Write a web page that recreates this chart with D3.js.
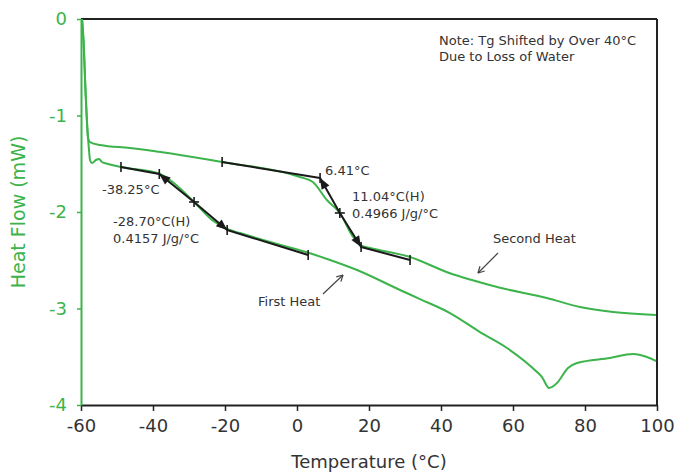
<!DOCTYPE html>
<html>
<head>
<meta charset="utf-8">
<script src="https://cdn.jsdelivr.net/npm/d3@7"></script>
<style>
  html, body { margin: 0; padding: 0; background: #fff; }
  svg text { font-family: "DejaVu Sans", sans-serif; }
</style>
</head>
<body>
<div id="chart"></div>
<script>
// --- datos ---
const secondHeatT = [-59.7, -59.3, -58.75, -58.05, -57.5, -54.7, -46.4, -20.8, 0.8, 4.4, 8.3, 11.9, 15.6, 18.1, 20.3, 31.4, 42.5, 48.1, 56.4, 69.4, 78.6, 87.8, 99.7];
const secondHeatH = [0, -0.22, -0.74, -1.23, -1.275, -1.306, -1.337, -1.482, -1.637, -1.689, -1.876, -2.01, -2.259, -2.352, -2.373, -2.466, -2.635, -2.70, -2.785, -2.891, -2.984, -3.036, -3.067];

const firstHeatT = [-59.7, -59.3, -58.75, -58.05, -57.78, -57.5, -56.94, -55.83, -55.0, -54.17, -52.5, -48.89, -38.06, -33.89, -28.61, -23.6, -19.44, -15.83, -7.5, 2.5, 9.17, 16.67, 28.6, 34.17, 42.5, 50.83, 58.33, 66.67, 68.06, 70.0, 72.22, 75.28, 77.78, 86.94, 93.33, 97.22, 99.72];
const firstHeatH = [0, -0.22, -0.74, -1.23, -1.357, -1.461, -1.492, -1.461, -1.451, -1.482, -1.503, -1.534, -1.606, -1.71, -1.896, -2.083, -2.176, -2.218, -2.311, -2.415, -2.497, -2.601, -2.808, -2.902, -3.047, -3.244, -3.409, -3.658, -3.71, -3.824, -3.772, -3.617, -3.565, -3.513, -3.472, -3.503, -3.544];

const xTicks = [-60, -40, -20, 0, 20, 40, 60, 80, 100];
const yTicks = [0, -1, -2, -3, -4];

// analisis Tg: [inicio linea base, onset, punto medio, fin, fin linea base]
const tgFirstT = [-48.9, -38.25, -28.6, -19.4, 3.1];
const tgFirstH = [-1.534, -1.606, -1.896, -2.187, -2.446];
const tgSecondT = [-20.8, 6.41, 11.9, 17.8, 31.4];
const tgSecondH = [-1.482, -1.648, -2.01, -2.363, -2.497];

// etiquetas: [texto, T, H]
const labels = [
  ["-38.25°C", -54.17, -1.782],
  ["-28.70°C(H)", -51.1, -2.104],
  ["0.4157 J/g/°C", -51.1, -2.28],
  ["6.41°C", 7.78, -1.585],
  ["11.04°C(H)", 15.28, -1.845],
  ["0.4966 J/g/°C", 15.28, -2.021],
  ["Second Heat", 54.44, -2.29],
  ["First Heat", -10.83, -2.943],
  ["Note: Tg Shifted by Over 40°C", 39.44, -0.228],
  ["Due to Loss of Water", 39.44, -0.394]
];

// flechas de etiquetas: [T0, H0, T1, H1]
const pointers = [
  [55.83, -2.425, 50.28, -2.632],
  [7.22, -2.85, 12.78, -2.653]
];

const GREEN = "#3cb44b";
const INK = "#333";

const width = 675, height = 476;
const margin = { top: 19, right: 18, bottom: 71, left: 81 };

const svg = d3.select("#chart").append("svg")
  .attr("width", width)
  .attr("height", height);

const x = d3.scaleLinear().domain([-60, 100]).range([margin.left, width - margin.right]);
const y = d3.scaleLinear().domain([-4, 0]).range([height - margin.bottom, margin.top]);

// --- marco ---
svg.append("line")
  .attr("x1", x(-60)).attr("x2", x(100))
  .attr("y1", y(0)).attr("y2", y(0))
  .attr("stroke", "#222").attr("stroke-width", 2);
svg.append("line")
  .attr("x1", x(100)).attr("x2", x(100))
  .attr("y1", y(0)).attr("y2", y(-4))
  .attr("stroke", "#222").attr("stroke-width", 2);

// --- eje X ---
const gx = svg.append("g")
  .attr("transform", `translate(0,${y(-4)})`)
  .call(d3.axisBottom(x).tickValues(xTicks).tickSize(6).tickSizeOuter(0).tickPadding(8)
    .tickFormat(d => String(d)));
gx.select(".domain").attr("stroke", "#222").attr("stroke-width", 2);
gx.selectAll(".tick line").attr("stroke", "#222").attr("stroke-width", 1.5);
gx.selectAll(".tick text")
  .attr("fill", INK)
  .style("font-size", "18px");

// --- eje Y ---
const gy = svg.append("g")
  .attr("transform", `translate(${x(-60)},0)`)
  .call(d3.axisLeft(y).tickValues(yTicks).tickSize(4).tickSizeOuter(0).tickPadding(10)
    .tickFormat(d => String(d)));
gy.select(".domain").attr("stroke", GREEN).attr("stroke-width", 2);
gy.selectAll(".tick line").attr("stroke", GREEN).attr("stroke-width", 1.5);
gy.selectAll(".tick text")
  .attr("fill", GREEN)
  .style("font-size", "18px");

// --- titulos de ejes ---
svg.append("text")
  .attr("x", (x(-60) + x(100)) / 2)
  .attr("y", 463)
  .attr("text-anchor", "middle")
  .attr("dominant-baseline", "middle")
  .attr("fill", INK)
  .style("font-size", "18px")
  .text("Temperature (°C)");

svg.append("text")
  .attr("transform", `translate(19,${y(-2)}) rotate(-90)`)
  .attr("text-anchor", "middle")
  .attr("dominant-baseline", "middle")
  .attr("fill", GREEN)
  .style("font-size", "19px")
  .text("Heat Flow (mW)");

// --- curvas ---
const line = d3.line()
  .x(d => x(d[0]))
  .y(d => y(d[1]))
  .curve(d3.curveMonotoneX);

const curves = [
  d3.zip(secondHeatT, secondHeatH),
  d3.zip(firstHeatT, firstHeatH)
];

svg.append("g")
  .selectAll("path")
  .data(curves)
  .join("path")
  .attr("d", line)
  .attr("fill", "none")
  .attr("stroke", GREEN)
  .attr("stroke-width", 2)
  .attr("stroke-linejoin", "round");

// --- analisis Tg ---
function drawTg(T, H) {
  const p = T.map((t, i) => [x(t), y(H[i])]);
  const g = svg.append("g").attr("stroke", "#1a1a1a").attr("fill", "#1a1a1a");

  g.append("polyline")
    .attr("points", p.map(d => d.join(",")).join(" "))
    .attr("fill", "none")
    .attr("stroke-width", 2)
    .attr("stroke-linejoin", "round");

  // marcas verticales
  [0, 1, 3, 4].forEach(i => {
    g.append("line")
      .attr("x1", p[i][0]).attr("x2", p[i][0])
      .attr("y1", p[i][1] - 5).attr("y2", p[i][1] + 5)
      .attr("stroke-width", 1.6);
  });
  // cruz en el punto medio
  const m = p[2];
  g.append("line").attr("x1", m[0] - 5).attr("x2", m[0] + 5).attr("y1", m[1]).attr("y2", m[1]).attr("stroke-width", 1.6);
  g.append("line").attr("x1", m[0]).attr("x2", m[0]).attr("y1", m[1] - 5).attr("y2", m[1] + 5).attr("stroke-width", 1.6);

  // puntas de flecha hacia onset y fin
  [[p[2], p[1]], [p[2], p[3]]].forEach(([a, b]) => {
    const ang = Math.atan2(b[1] - a[1], b[0] - a[0]);
    const L = 11, W = 4.5;
    const bx = b[0] - L * Math.cos(ang), by = b[1] - L * Math.sin(ang);
    const pts = [
      [b[0], b[1]],
      [bx + W * Math.sin(ang), by - W * Math.cos(ang)],
      [bx - W * Math.sin(ang), by + W * Math.cos(ang)]
    ];
    g.append("polygon")
      .attr("points", pts.map(d => d.join(",")).join(" "))
      .attr("stroke", "none");
  });
}
drawTg(tgFirstT, tgFirstH);
drawTg(tgSecondT, tgSecondH);

// --- textos ---
svg.append("g")
  .selectAll("text")
  .data(labels)
  .join("text")
  .attr("x", d => x(d[1]))
  .attr("y", d => y(d[2]))
  .attr("dominant-baseline", "middle")
  .attr("fill", INK)
  .style("font-size", "13px")
  .text(d => d[0]);

// --- flechas de etiquetas ---
pointers.forEach(([t0, h0, t1, h1]) => {
  const x0 = x(t0), y0 = y(h0), x1 = x(t1), y1 = y(h1);
  const ang = Math.atan2(y1 - y0, x1 - x0);
  const g = svg.append("g").attr("stroke", "#444").attr("stroke-width", 1.2).attr("fill", "none");
  g.append("line").attr("x1", x0).attr("y1", y0).attr("x2", x1).attr("y2", y1);
  [-0.5, 0.5].forEach(da => {
    g.append("line")
      .attr("x1", x1).attr("y1", y1)
      .attr("x2", x1 - 7 * Math.cos(ang + da))
      .attr("y2", y1 - 7 * Math.sin(ang + da));
  });
});
</script>
</body>
</html>
